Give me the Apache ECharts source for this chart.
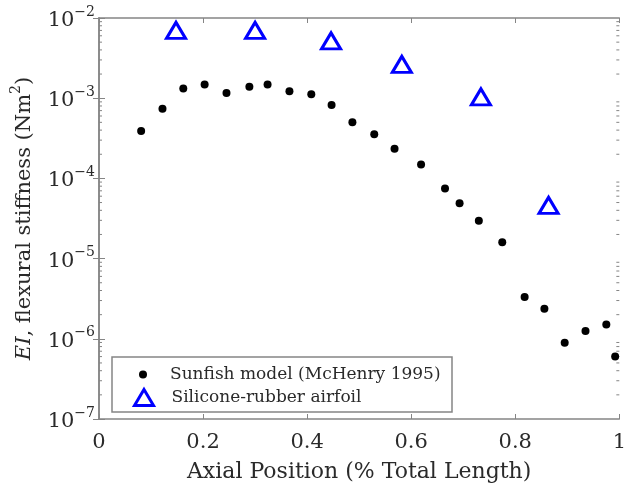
<!DOCTYPE html>
<html>
<head>
<meta charset="utf-8">
<script src="https://cdn.jsdelivr.net/npm/echarts@6/dist/echarts.min.js"></script>
<style>
  html, body { margin: 0; padding: 0; background: #fff; }
  #chart { width: 629px; height: 488px; }
</style>
</head>
<body>
<div id="chart"></div>
<script>
// Axial position along the body (fraction of total length)
const sunfishX = [0.081, 0.122, 0.162, 0.203, 0.245, 0.289, 0.324, 0.366, 0.408, 0.447, 0.487, 0.529,
                  0.568, 0.619, 0.665, 0.693, 0.730, 0.775, 0.818, 0.856, 0.895, 0.935, 0.975, 0.992];
// Flexural stiffness EI (N m^2)
const sunfishEI = [3.9e-4, 7.4e-4, 1.32e-3, 1.48e-3, 1.16e-3, 1.39e-3, 1.48e-3, 1.22e-3, 1.12e-3, 8.2e-4, 5.0e-4, 3.56e-4,
                   2.35e-4, 1.49e-4, 7.5e-5, 4.9e-5, 2.96e-5, 1.6e-5, 3.33e-6, 2.37e-6, 8.9e-7, 1.25e-6, 1.51e-6, 6.0e-7];

const airfoilX = [0.148, 0.300, 0.446, 0.582, 0.734, 0.864];
const airfoilEI = [7.0e-3, 7.0e-3, 5.2e-3, 2.64e-3, 1.04e-3, 4.6e-5];

const xTicks = [0, 0.2, 0.4, 0.6, 0.8, 1];
const yDecades = [-7, -6, -5, -4, -3, -2];

const seriesNames = ['Sunfish model (McHenry 1995)', 'Silicone-rubber airfoil'];

// minor log ticks: 2..9 times each decade
const minorTicks = [];
for (let d = 0; d < yDecades.length - 1; d++) {
  for (let m = 2; m <= 9; m++) minorTicks.push(m * Math.pow(10, yDecades[d]));
}

const FONT = 'DejaVu Serif';
const TEXT = '#2a2a2a';
const FRAME = '#858585';

const chart = echarts.init(document.getElementById('chart'), null, { renderer: 'canvas' });

const baseX = {
  type: 'value', min: xTicks[0], max: xTicks[xTicks.length - 1], interval: 0.2,
  axisLine: { show: true, lineStyle: { color: FRAME, width: 1.5 } },
  axisTick: { show: true, inside: true, length: 5, lineStyle: { color: FRAME } },
  splitLine: { show: false }
};
const baseY = {
  type: 'log', logBase: 10, min: Math.pow(10, yDecades[0]), max: Math.pow(10, yDecades[yDecades.length - 1]),
  interval: 1,
  axisLine: { show: true, lineStyle: { color: FRAME, width: 1.5 } },
  axisTick: { show: true, inside: true, length: 6, lineStyle: { color: FRAME } },
  splitLine: { show: false }
};

const option = {
  animation: false,
  backgroundColor: '#fff',
  grid: { left: 99, right: 4, top: 18, bottom: 64, containLabel: false },
  xAxis: [
    Object.assign({}, baseX, {
      position: 'bottom',
      axisLabel: {
        show: true, margin: 13, color: TEXT, fontFamily: FONT, fontSize: 21,
        formatter: v => (Math.abs(v) < 1e-9 ? '0' : (Math.abs(v - 1) < 1e-9 ? '1' : String(+v.toFixed(1))))
      },
      name: 'Axial Position (% Total Length)',
      nameLocation: 'middle', nameGap: 42,
      nameTextStyle: { color: TEXT, fontFamily: FONT, fontSize: 22 }
    }),
    Object.assign({}, baseX, { position: 'top', axisLabel: { show: false } })
  ],
  yAxis: [
    Object.assign({}, baseY, {
      position: 'left',
      axisLabel: {
        show: true, margin: 4, color: TEXT,
        formatter: v => '{b|10}{s|' + '\u2212' + Math.round(-Math.log10(v)) + '}',
        rich: {
          b: { fontFamily: FONT, fontSize: 21, color: TEXT, lineHeight: 26, verticalAlign: 'bottom' },
          s: { fontFamily: FONT, fontSize: 14, color: TEXT, lineHeight: 26, verticalAlign: 'top' }
        }
      },
      name: '{i|EI}{n|, flexural stiffness (Nm}{sup|2}{n|)}',
      nameLocation: 'middle', nameGap: 64,
      nameTextStyle: {
        color: TEXT,
        rich: {
          i: { fontFamily: FONT, fontStyle: 'italic', fontSize: 21, color: TEXT, lineHeight: 26, verticalAlign: 'bottom' },
          n: { fontFamily: FONT, fontSize: 21, color: TEXT, lineHeight: 26, verticalAlign: 'bottom' },
          sup: { fontFamily: FONT, fontSize: 14, color: TEXT, lineHeight: 26, verticalAlign: 'top' }
        }
      }
    }),
    Object.assign({}, baseY, { position: 'right', axisLabel: { show: false } })
  ],
  legend: [
    {
      data: [seriesNames[0]], orient: 'vertical', left: 139, top: 366,
      itemWidth: 8, itemHeight: 8, padding: 0,
      textStyle: { fontFamily: FONT, fontSize: 17, color: TEXT, padding: [0, 0, 0, 18] },
      selectedMode: false
    },
    {
      data: [seriesNames[1]], orient: 'vertical', left: 133, top: 388,
      itemWidth: 19, itemHeight: 16, padding: 0,
      itemStyle: { color: 'rgba(0,0,0,0)', borderColor: '#0000ff', borderWidth: 3 },
      textStyle: { fontFamily: FONT, fontSize: 17, color: TEXT, padding: [0, 0, 0, 13] },
      selectedMode: false
    }
  ],
  graphic: [
    {
      type: 'rect', z: 4, silent: true,
      shape: { x: 112, y: 357, width: 340, height: 55 },
      style: { fill: '#fff', stroke: FRAME, lineWidth: 1.5 }
    }
  ],
  series: [
    {
      name: 'minor ticks',
      type: 'custom',
      xAxisIndex: 0, yAxisIndex: 0,
      data: minorTicks.map(v => [0, v]),
      silent: true,
      renderItem: function (params, api) {
        const v = api.value(1);
        const pl = api.coord([xTicks[0], v]);
        const pr = api.coord([xTicks[xTicks.length - 1], v]);
        return {
          type: 'group',
          children: [
            { type: 'line', shape: { x1: pl[0], y1: pl[1], x2: pl[0] + 3, y2: pl[1] }, style: { stroke: FRAME, lineWidth: 1 } },
            { type: 'line', shape: { x1: pr[0], y1: pr[1], x2: pr[0] - 3, y2: pr[1] }, style: { stroke: FRAME, lineWidth: 1 } }
          ]
        };
      }
    },
    {
      name: seriesNames[0],
      type: 'scatter',
      data: sunfishX.map((x, i) => [x, sunfishEI[i]]),
      symbol: 'circle', symbolSize: 8,
      itemStyle: { color: '#000', opacity: 1 },
      z: 3
    },
    {
      name: seriesNames[1],
      type: 'scatter',
      data: airfoilX.map((x, i) => [x, airfoilEI[i]]),
      symbol: 'triangle', symbolSize: [19, 16],
      itemStyle: { color: 'rgba(0,0,0,0)', borderColor: '#0000ff', borderWidth: 3, opacity: 1 },
      z: 3
    }
  ]
};

chart.setOption(option);
</script>
</body>
</html>
